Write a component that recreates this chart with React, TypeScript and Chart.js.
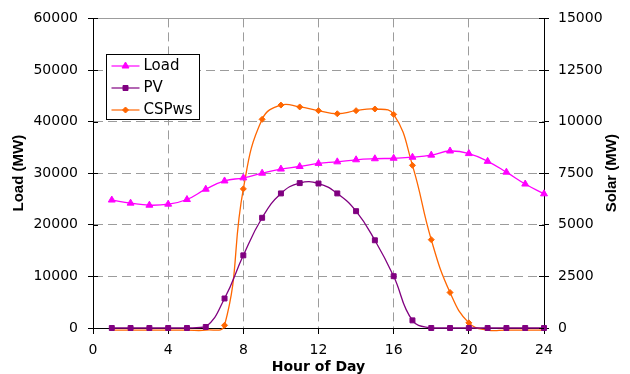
import React, { useEffect, useRef } from "react";
import { Chart, registerables } from "chart.js";

Chart.register(...registerables);

// ---------- data ----------
const hours = [1, 2, 3, 4, 5, 6, 7, 8, 9, 10, 11, 12, 13, 14, 15, 16, 17, 18, 19, 20, 21, 22, 23, 24];
const loadMW = [24800, 24200, 23800, 24000, 24900, 26900, 28500, 29100, 30000, 30800, 31300, 31900, 32200, 32600, 32800, 32900, 33100, 33500, 34300, 33800, 32300, 30200, 27900, 26000];
const pvMW = [0, 0, 0, 0, 0, 50, 1430, 3520, 5340, 6520, 7020, 7000, 6520, 5660, 4250, 2510, 370, 0, 0, 0, 0, 0, 0, 0];
const cspMW = [-100, -100, -100, -100, -100, -100, 130, 6740, 10110, 10800, 10710, 10530, 10380, 10530, 10610, 10350, 7880, 4280, 1720, 250, -100, -100, -100, -100];

const seriesNames = ["Load", "PV", "CSPws"];
const seriesColors = ["#FF00FF", "#800080", "#FF6600"];
const xTitle = "Hour of Day";
const leftTitle = "Load (MW)";
const rightTitle = "Solar (MW)";
const xRange = [0, 24, 4];
const leftRange = [0, 60000, 10000];
const rightRange = [0, 15000, 2500];

const FONT = "'DejaVu Sans', sans-serif";
const TITLE_FONT = "'Liberation Sans', Arial, sans-serif";
const GRID = "#9c9c9c";

const toXY = (ys: number[]) => ys.map((y, i) => ({ x: hours[i], y }));

function drawMarker(ctx: CanvasRenderingContext2D, kind: number, x: number, y: number) {
  ctx.beginPath();
  if (kind === 0) {
    const r = 4;
    ctx.moveTo(x, y - r);
    ctx.lineTo(x + r * Math.sin((2 * Math.PI) / 3), y - r * Math.cos((2 * Math.PI) / 3));
    ctx.lineTo(x + r * Math.sin((4 * Math.PI) / 3), y - r * Math.cos((4 * Math.PI) / 3));
    ctx.closePath();
  } else if (kind === 1) {
    const s = 2.5;
    ctx.rect(x - s, y - s, 2 * s, 2 * s);
  } else {
    const r = 3;
    ctx.moveTo(x - r, y);
    ctx.lineTo(x, y - r);
    ctx.lineTo(x + r, y);
    ctx.lineTo(x, y + r);
    ctx.closePath();
  }
  ctx.fill();
  ctx.stroke();
}

const overlayPlugin = {
  id: "overlay",
  afterDraw(chart: any) {
    const { ctx, chartArea: ca, scales } = chart;
    ctx.save();
    // top frame line
    ctx.lineWidth = 1;
    ctx.strokeStyle = GRID;
    ctx.setLineDash([]);
    const ty = Math.round(ca.top) + 0.5;
    ctx.beginPath();
    ctx.moveTo(ca.left, ty);
    ctx.lineTo(ca.right, ty);
    ctx.stroke();

    // inward tick marks
    ctx.strokeStyle = "#000";
    const yl = scales.y;
    const yr = scales.y2;
    yl.ticks.forEach((t: any) => {
      const py = Math.round(yl.getPixelForValue(t.value)) + 0.5;
      ctx.beginPath();
      ctx.moveTo(ca.left, py);
      ctx.lineTo(ca.left + 5, py);
      ctx.stroke();
    });
    yr.ticks.forEach((t: any) => {
      const py = Math.round(yr.getPixelForValue(t.value)) + 0.5;
      ctx.beginPath();
      ctx.moveTo(ca.right - 5, py);
      ctx.lineTo(ca.right, py);
      ctx.stroke();
    });

    // right axis title (reads bottom-to-top)
    ctx.save();
    ctx.translate(chart.width - 18, (ca.top + ca.bottom) / 2);
    ctx.rotate(-Math.PI / 2);
    ctx.font = `bold 15px ${TITLE_FONT}`;
    ctx.fillStyle = "#000";
    ctx.textAlign = "center";
    ctx.textBaseline = "middle";
    ctx.fillText(rightTitle, 0, 0);
    ctx.restore();

    // legend box inside plot area
    const bx = Math.round(ca.left + 13) + 0.5;
    const by = Math.round(ca.top + 36) + 0.5;
    const bw = 93;
    const bh = 65;
    ctx.fillStyle = "#fff";
    ctx.fillRect(bx, by, bw, bh);
    ctx.strokeStyle = "#000";
    ctx.lineWidth = 1;
    ctx.strokeRect(bx, by, bw, bh);
    seriesNames.forEach((name, i) => {
      const ry = by + 11.5 + i * 22;
      ctx.strokeStyle = seriesColors[i];
      ctx.fillStyle = seriesColors[i];
      ctx.lineWidth = 1.2;
      ctx.beginPath();
      ctx.moveTo(bx + 5, ry);
      ctx.lineTo(bx + 33, ry);
      ctx.stroke();
      ctx.lineWidth = 1;
      drawMarker(ctx, i, bx + 19, ry);
      ctx.fillStyle = "#000";
      ctx.font = `15px ${FONT}`;
      ctx.textAlign = "left";
      ctx.textBaseline = "middle";
      ctx.fillText(name, bx + 37, ry + 0.5);
    });
    ctx.restore();
  },
};

export default function App() {
  const ref = useRef<HTMLCanvasElement | null>(null);

  useEffect(() => {
    if (!ref.current) return;
    const common = {
      borderWidth: 1.3,
      tension: 0.45,
      cubicInterpolationMode: "default" as const,
      clip: false as const,
      fill: false,
      pointBorderWidth: 1,
    };
    const chart = new Chart(ref.current, {
      type: "line",
      data: {
        datasets: [
          {
            ...common,
            label: seriesNames[0],
            data: toXY(loadMW),
            yAxisID: "y",
            borderColor: seriesColors[0],
            backgroundColor: seriesColors[0],
            pointStyle: "triangle",
            pointRadius: 4,
          },
          {
            ...common,
            label: seriesNames[1],
            data: toXY(pvMW),
            yAxisID: "y2",
            borderColor: seriesColors[1],
            backgroundColor: seriesColors[1],
            pointStyle: "rect",
            pointRadius: 3.5,
          },
          {
            ...common,
            label: seriesNames[2],
            data: toXY(cspMW),
            yAxisID: "y2",
            borderColor: seriesColors[2],
            backgroundColor: seriesColors[2],
            pointStyle: "rectRot",
            pointRadius: (c: any) => (c.raw && c.raw.y < 0 ? 0 : 3),
          },
        ],
      },
      options: {
        responsive: false,
        animation: false,
        events: [],
        layout: { padding: { top: 16, left: 0, right: 0, bottom: 0 } },
        plugins: { legend: { display: false }, tooltip: { enabled: false } },
        scales: {
          x: {
            type: "linear",
            position: "bottom",
            min: xRange[0],
            max: xRange[1],
            afterFit: (s: any) => {
              s.height = 46;
            },
            grid: {
              color: (c: any) => (c.tick && (c.tick.value === xRange[0] || c.tick.value === xRange[1]) ? "rgba(0,0,0,0)" : GRID),
              lineWidth: 1,
              tickLength: 6,
              tickColor: "#000",
            },
            border: { color: "#000", width: 1, dash: [9, 5] },
            ticks: {
              stepSize: xRange[2],
              padding: 8,
              color: "#000",
              font: { family: FONT, size: 14 },
              maxRotation: 0,
              callback: (v: any) => String(v),
            },
            title: {
              display: true,
              text: xTitle,
              color: "#000",
              font: { family: FONT, size: 14, weight: "bold" },
              padding: { top: 0, bottom: -2 },
            },
          },
          y: {
            type: "linear",
            position: "left",
            min: leftRange[0],
            max: leftRange[1],
            afterFit: (s: any) => {
              s.width = 93;
            },
            grid: {
              color: (c: any) => (c.tick && (c.tick.value === leftRange[0] || c.tick.value === leftRange[1]) ? "rgba(0,0,0,0)" : GRID),
              lineWidth: 1,
              tickLength: 5,
              tickColor: "#000",
            },
            border: { color: "#000", width: 1, dash: [9, 5] },
            ticks: {
              stepSize: leftRange[2],
              padding: 10,
              color: "#000",
              font: { family: FONT, size: 14 },
              callback: (v: any) => String(v),
            },
            title: {
              display: true,
              text: leftTitle,
              color: "#000",
              font: { family: TITLE_FONT, size: 15, weight: "bold" },
              padding: { top: 10, bottom: 0 },
            },
          },
          y2: {
            type: "linear",
            position: "right",
            min: rightRange[0],
            max: rightRange[1],
            afterFit: (s: any) => {
              s.width = 86;
            },
            grid: {
              drawOnChartArea: false,
              tickLength: 5,
              tickColor: "#000",
            },
            border: { color: "#000", width: 1 },
            ticks: {
              stepSize: rightRange[2],
              padding: 9,
              color: "#000",
              font: { family: FONT, size: 14 },
              callback: (v: any) => String(v),
            },
          },
        },
      },
      plugins: [overlayPlugin],
    } as any);
    return () => chart.destroy();
  }, []);

  return (
    <div style={{ position: "absolute", left: 0, top: 0, width: 630, height: 374, background: "#fff" }}>
      <canvas ref={ref} width={630} height={374} style={{ display: "block" }} />
    </div>
  );
}
